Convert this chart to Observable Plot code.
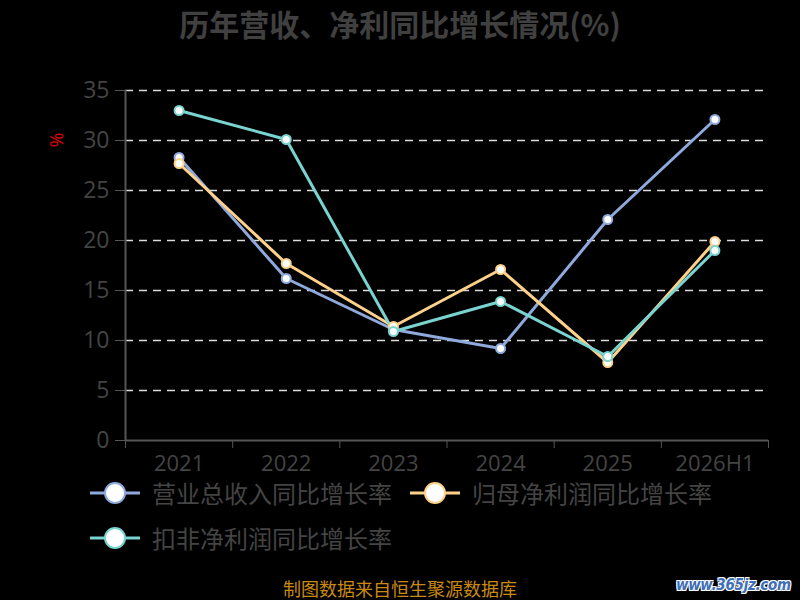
<!DOCTYPE html>
<html><head><meta charset="utf-8">
<script src="https://cdn.jsdelivr.net/npm/d3@7"></script>
<script src="https://cdn.jsdelivr.net/npm/@observablehq/plot@0.6"></script>
<style>
html,body{margin:0;padding:0;background:#000;}
body{width:800px;height:600px;overflow:hidden;position:relative;font-family:"Open Sans","Noto Sans CJK SC",sans-serif;}
#title{height:48px;line-height:46px;text-align:center;font-size:30px;font-weight:bold;color:#404040;font-family:"Noto Sans CJK SC",sans-serif;}
#chart{position:absolute;left:0;top:48px;}
#chart svg{display:block;}
.leg{position:absolute;display:flex;align-items:center;height:26px;font-size:24px;line-height:26px;color:#444;font-family:"Noto Sans CJK SC",sans-serif;white-space:nowrap;}
.leg svg{display:block;margin-right:10px;}
#footer{position:absolute;left:0;width:800px;top:578px;text-align:center;font-size:18px;line-height:20px;color:#c98a12;font-family:"Noto Sans CJK SC",sans-serif;}
#wm{position:absolute;left:676px;top:575px;font-size:15px;line-height:20px;font-weight:bold;font-style:italic;color:#3d6fb8;font-family:"DejaVu Sans Condensed","DejaVu Sans",sans-serif;letter-spacing:-0.3px;text-shadow:1px 1px 0 #fff,-1px -1px 0 #fff,1px -1px 0 #fff,-1px 1px 0 #fff;}
</style></head>
<body>
<div id="title">历年营收、净利同比增长情况(%)</div>
<div id="chart"></div>
<div id="legend"></div>
<div id="footer">制图数据来自恒生聚源数据库</div>
<div id="wm">www.365jz.com</div>
<script>
const categories = ["2021","2022","2023","2024","2025","2026H1"];
const seriesNames = ["营业总收入同比增长率","归母净利润同比增长率","扣非净利润同比增长率"];
const revenueGrowth = [28.3, 16.2, 11.1, 9.2, 22.1, 32.1];
const netProfitGrowth = [27.7, 17.7, 11.4, 17.1, 7.8, 19.9];
const deductedProfitGrowth = [33.0, 30.1, 10.9, 13.9, 8.4, 19.0];
const seriesColors = ["#8fa9dc","#fed18b","#79d3cf"];
const yTicks = [0,5,10,15,20,25,30,35];

const seriesValues = [revenueGrowth, netProfitGrowth, deductedProfitGrowth];
const data = [];
seriesValues.forEach((vals, s) => vals.forEach((v, i) => data.push({series: seriesNames[s], idx: i + 0.5, value: v})));
const centers = categories.map((c, i) => i + 0.5);
const bounds = d3.range(categories.length + 1);

const chart = Plot.plot({
  width: 800, height: 430,
  marginTop: 42, marginBottom: 38, marginLeft: 125, marginRight: 32,
  style: {background: "#000", fontFamily: "'Open Sans','Noto Sans CJK SC',sans-serif"},
  x: {domain: [0, categories.length]},
  y: {domain: [0, 35]},
  color: {domain: seriesNames, range: seriesColors},
  marks: [
    Plot.ruleY(yTicks.filter(d => d > 0), {stroke: "#dcdcdc", strokeWidth: 1.5, strokeDasharray: "8,6"}),
    Plot.axisY({ticks: yTicks, tickSize: 10, tickPadding: 6, fontSize: 23, color: "#444", stroke: "#555", label: null}),
    Plot.axisX({ticks: bounds, tickSize: 8, tickFormat: () => "", stroke: "#555", label: null}),
    Plot.axisX({ticks: centers, tickSize: 0, tickPadding: 15, fontSize: 22, color: "#444", tickFormat: d => categories[Math.round(d - 0.5)], label: null}),
    Plot.ruleY([0], {stroke: "#555", strokeWidth: 2}),
    Plot.ruleX([0], {stroke: "#555", strokeWidth: 2}),
    Plot.text(["%"], {frameAnchor: "top-left", dx: -63, dy: 42, rotate: 90, fill: "#e00000", fontSize: 18}),
    Plot.line(data, {x: "idx", y: "value", z: "series", stroke: "series", strokeWidth: 3}),
    Plot.dot(data, {x: "idx", y: "value", stroke: "series", fill: "#fff", r: 4.5, strokeWidth: 2})
  ]
});
document.getElementById("chart").appendChild(chart);

const legPos = [[90, 480], [410, 480], [90, 525]];
const leg = document.getElementById("legend");
seriesNames.forEach((name, i) => {
  const d = document.createElement("div");
  d.className = "leg";
  d.style.left = legPos[i][0] + "px";
  d.style.top = legPos[i][1] + "px";
  const c = seriesColors[i];
  d.innerHTML = `<svg width="52" height="26"><line x1="0" y1="13" x2="50" y2="13" stroke="${c}" stroke-width="3"/><circle cx="25" cy="13" r="10" fill="#fff" stroke="${c}" stroke-width="2"/></svg><span>${name}</span>`;
  leg.appendChild(d);
});
</script>
</body></html>
